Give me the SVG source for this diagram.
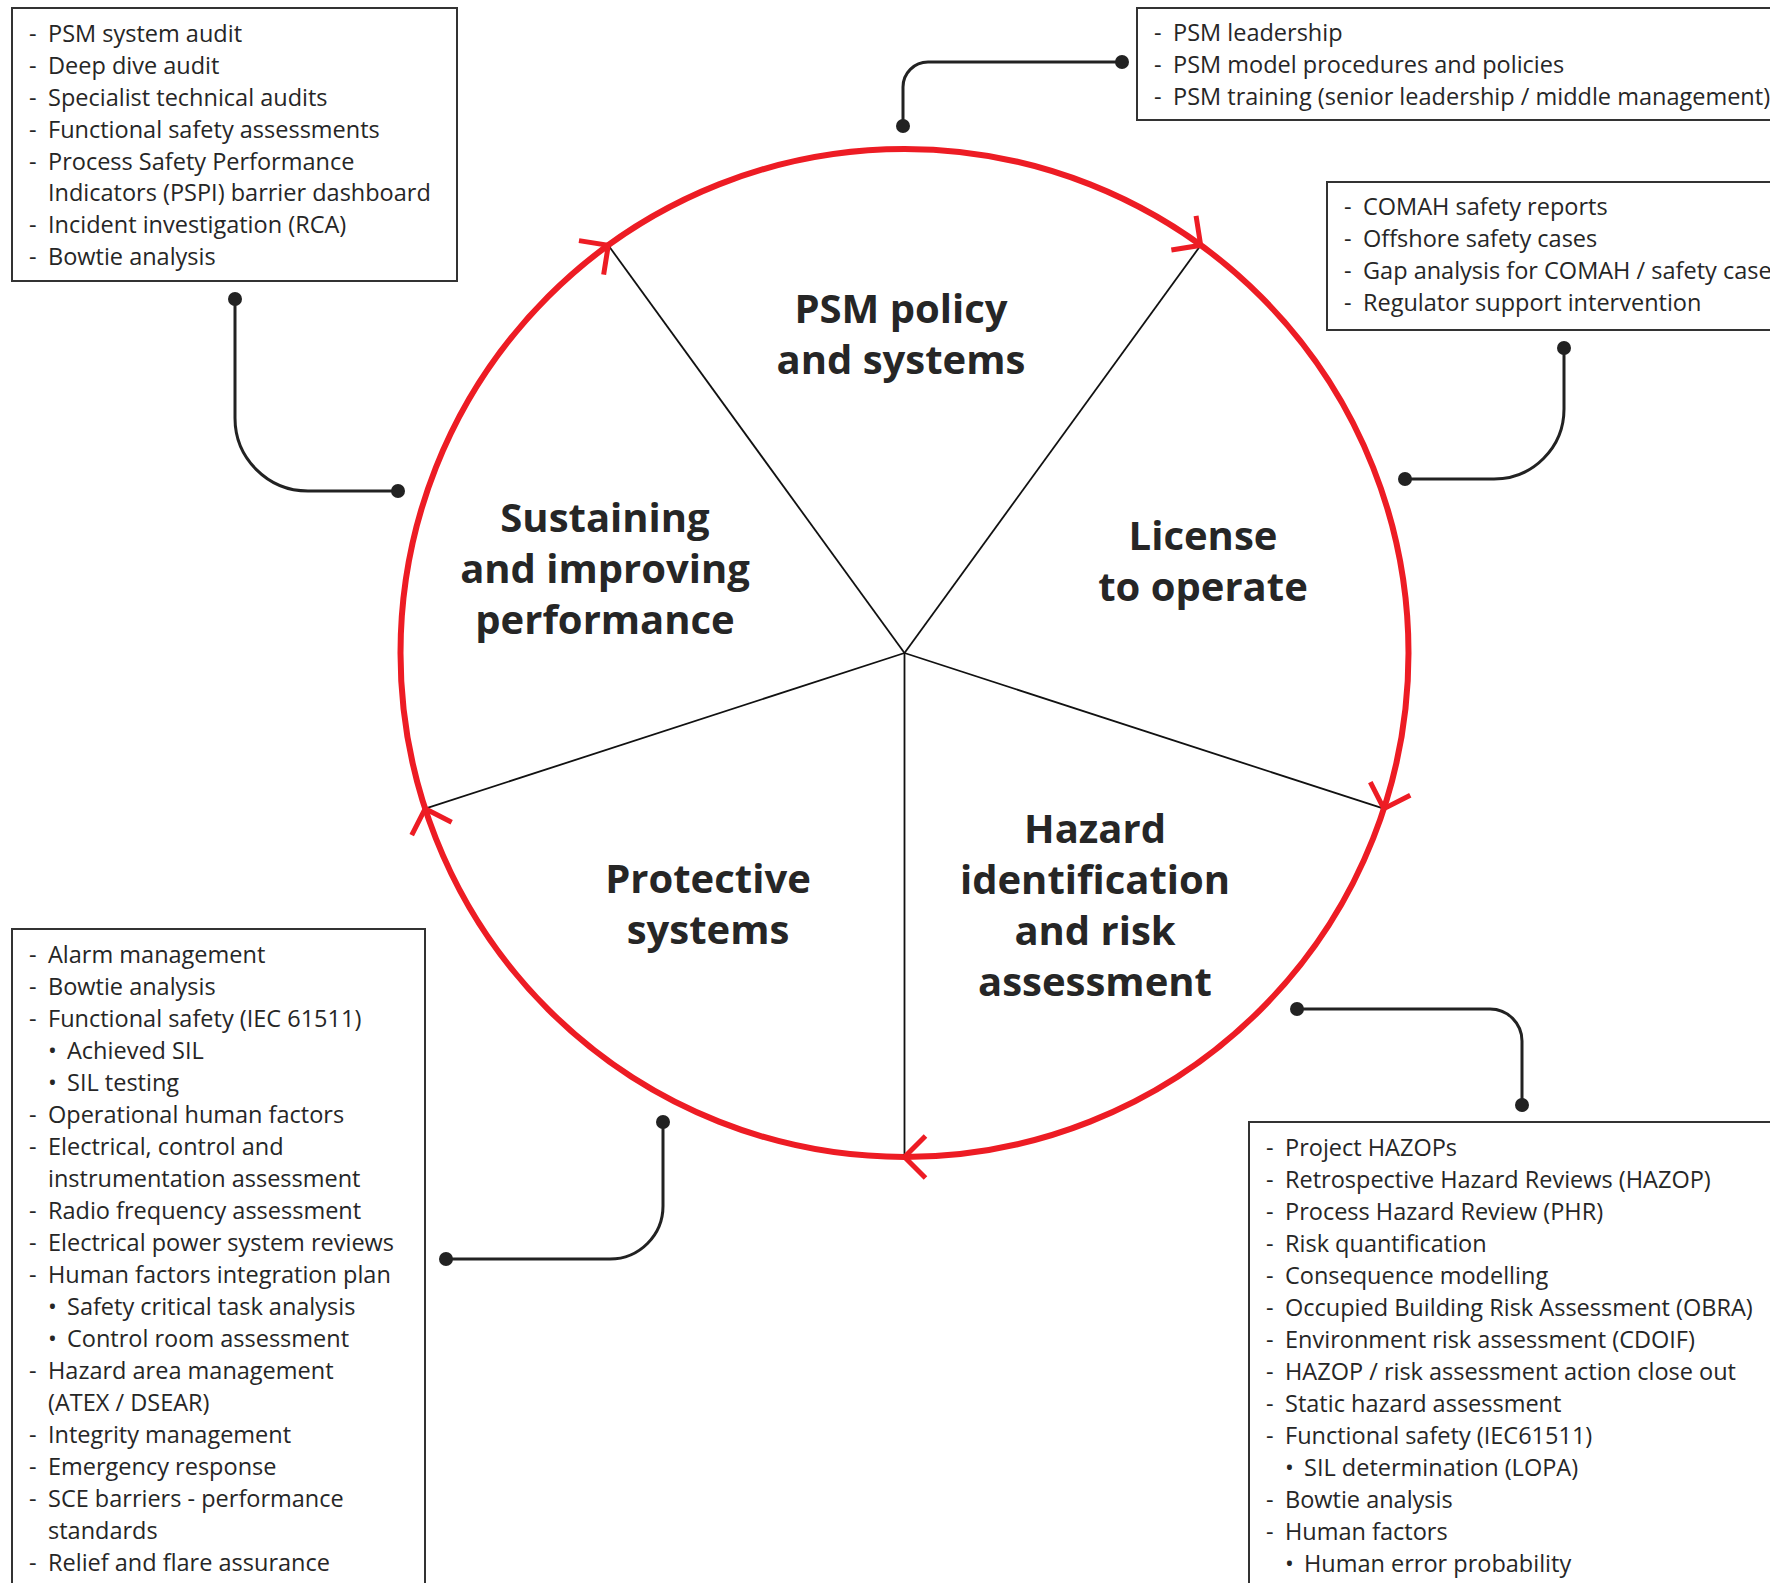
<svg xmlns="http://www.w3.org/2000/svg" xmlns:xlink="http://www.w3.org/1999/xlink" width="1770" height="1583" viewBox="0 0 1770 1583">
<defs>
<style>
.box{fill:#fff;stroke:#333;stroke-width:2}
.t{font-family:"Open Sans","Liberation Sans",sans-serif;font-size:23.5px;fill:#262626}
.lbl{font-family:"Open Sans","Liberation Sans",sans-serif;font-size:40px;font-weight:700;fill:#262626;text-anchor:middle}
.ring{fill:none;stroke:#ED1C24;stroke-width:6}
.spoke{stroke:#111;stroke-width:1.8}
.chev{fill:none;stroke:#ED1C24;stroke-width:5}
.conn{fill:none;stroke:#222;stroke-width:3}
.dot{fill:#222}
</style>
<path id="chev" class="chev" d="M-21,-21 L0,0 L-21,21"/>
</defs>
<rect width="1770" height="1583" fill="#fff"/>

<g id="cycle">
<circle class="ring" cx="904.5" cy="653" r="504"/>
<line class="spoke" x1="904.5" y1="653" x2="608.3" y2="245.3"/>
<line class="spoke" x1="904.5" y1="653" x2="1200.7" y2="245.3"/>
<line class="spoke" x1="904.5" y1="653" x2="1383.8" y2="808.7"/>
<line class="spoke" x1="904.5" y1="653" x2="904.5" y2="1157"/>
<line class="spoke" x1="904.5" y1="653" x2="425.2" y2="808.7"/>
<use xlink:href="#chev" transform="translate(608.3,245.3) rotate(-36)"/>
<use xlink:href="#chev" transform="translate(1200.7,245.3) rotate(36)"/>
<use xlink:href="#chev" transform="translate(1383.8,808.7) rotate(108)"/>
<use xlink:href="#chev" transform="translate(904.5,1157) rotate(180)"/>
<use xlink:href="#chev" transform="translate(425.2,808.7) rotate(252)"/>
</g>

<g id="seg-policy">
<text class="lbl" x="901" y="323">PSM policy</text>
<text class="lbl" x="901" y="374">and systems</text>
</g>
<g id="seg-license">
<text class="lbl" x="1203" y="550">License</text>
<text class="lbl" x="1203" y="601">to operate</text>
</g>
<g id="seg-hazard">
<text class="lbl" x="1095" y="843">Hazard</text>
<text class="lbl" x="1095" y="894">identification</text>
<text class="lbl" x="1095" y="945">and risk</text>
<text class="lbl" x="1095" y="996">assessment</text>
</g>
<g id="seg-protective">
<text class="lbl" x="708" y="893">Protective</text>
<text class="lbl" x="708" y="944">systems</text>
</g>
<g id="seg-sustaining">
<text class="lbl" x="605" y="532">Sustaining</text>
<text class="lbl" x="605" y="583">and improving</text>
<text class="lbl" x="605" y="634">performance</text>
</g>

<g id="box-sustaining">
<rect class="box" x="12" y="8" width="445" height="273"/>
<g class="t">
<text x="29" y="42">-</text><text x="48" y="42">PSM system audit</text>
<text x="29" y="74">-</text><text x="48" y="74">Deep dive audit</text>
<text x="29" y="106">-</text><text x="48" y="106">Specialist technical audits</text>
<text x="29" y="138">-</text><text x="48" y="138">Functional safety assessments</text>
<text x="29" y="170">-</text><text x="48" y="170">Process Safety Performance</text>
<text x="48" y="201">Indicators (PSPI) barrier dashboard</text>
<text x="29" y="233">-</text><text x="48" y="233">Incident investigation (RCA)</text>
<text x="29" y="265">-</text><text x="48" y="265">Bowtie analysis</text>
</g>
</g>

<g id="box-policy">
<rect class="box" x="1137" y="8" width="640" height="112"/>
<g class="t">
<text x="1154" y="41">-</text><text x="1173" y="41">PSM leadership</text>
<text x="1154" y="73">-</text><text x="1173" y="73">PSM model procedures and policies</text>
<text x="1154" y="105">-</text><text x="1173" y="105">PSM training (senior leadership / middle management)</text>
</g>
</g>

<g id="box-license">
<rect class="box" x="1327" y="182" width="450" height="148"/>
<g class="t">
<text x="1344" y="215">-</text><text x="1363" y="215">COMAH safety reports</text>
<text x="1344" y="247">-</text><text x="1363" y="247">Offshore safety cases</text>
<text x="1344" y="279">-</text><text x="1363" y="279">Gap analysis for COMAH / safety cases</text>
<text x="1344" y="311">-</text><text x="1363" y="311">Regulator support intervention</text>
</g>
</g>

<g id="box-protective">
<rect class="box" x="12" y="929" width="413" height="670"/>
<g class="t">
<text x="29" y="963">-</text><text x="48" y="963">Alarm management</text>
<text x="29" y="995">-</text><text x="48" y="995">Bowtie analysis</text>
<text x="29" y="1027">-</text><text x="48" y="1027">Functional safety (IEC 61511)</text>
<text x="48" y="1059">•</text><text x="67" y="1059">Achieved SIL</text>
<text x="48" y="1091">•</text><text x="67" y="1091">SIL testing</text>
<text x="29" y="1123">-</text><text x="48" y="1123">Operational human factors</text>
<text x="29" y="1155">-</text><text x="48" y="1155">Electrical, control and</text>
<text x="48" y="1187">instrumentation assessment</text>
<text x="29" y="1219">-</text><text x="48" y="1219">Radio frequency assessment</text>
<text x="29" y="1251">-</text><text x="48" y="1251">Electrical power system reviews</text>
<text x="29" y="1283">-</text><text x="48" y="1283">Human factors integration plan</text>
<text x="48" y="1315">•</text><text x="67" y="1315">Safety critical task analysis</text>
<text x="48" y="1347">•</text><text x="67" y="1347">Control room assessment</text>
<text x="29" y="1379">-</text><text x="48" y="1379">Hazard area management</text>
<text x="48" y="1411">(ATEX / DSEAR)</text>
<text x="29" y="1443">-</text><text x="48" y="1443">Integrity management</text>
<text x="29" y="1475">-</text><text x="48" y="1475">Emergency response</text>
<text x="29" y="1507">-</text><text x="48" y="1507">SCE barriers - performance</text>
<text x="48" y="1539">standards</text>
<text x="29" y="1571">-</text><text x="48" y="1571">Relief and flare assurance</text>
</g>
</g>

<g id="box-hazard">
<rect class="box" x="1249" y="1122" width="530" height="480"/>
<g class="t">
<text x="1266" y="1156">-</text><text x="1285" y="1156">Project HAZOPs</text>
<text x="1266" y="1188">-</text><text x="1285" y="1188">Retrospective Hazard Reviews (HAZOP)</text>
<text x="1266" y="1220">-</text><text x="1285" y="1220">Process Hazard Review (PHR)</text>
<text x="1266" y="1252">-</text><text x="1285" y="1252">Risk quantification</text>
<text x="1266" y="1284">-</text><text x="1285" y="1284">Consequence modelling</text>
<text x="1266" y="1316">-</text><text x="1285" y="1316">Occupied Building Risk Assessment (OBRA)</text>
<text x="1266" y="1348">-</text><text x="1285" y="1348">Environment risk assessment (CDOIF)</text>
<text x="1266" y="1380">-</text><text x="1285" y="1380">HAZOP / risk assessment action close out</text>
<text x="1266" y="1412">-</text><text x="1285" y="1412">Static hazard assessment</text>
<text x="1266" y="1444">-</text><text x="1285" y="1444">Functional safety (IEC61511)</text>
<text x="1285" y="1476">•</text><text x="1304" y="1476">SIL determination (LOPA)</text>
<text x="1266" y="1508">-</text><text x="1285" y="1508">Bowtie analysis</text>
<text x="1266" y="1540">-</text><text x="1285" y="1540">Human factors</text>
<text x="1285" y="1572">•</text><text x="1304" y="1572">Human error probability</text>
</g>
</g>

<g id="connectors">
<path class="conn" d="M1122,62 H928 A25,25 0 0 0 903,87 V126"/>
<circle class="dot" cx="1122" cy="62" r="7"/><circle class="dot" cx="903" cy="126" r="7"/>
<path class="conn" d="M235,299 V418 A73,73 0 0 0 308,491 H398"/>
<circle class="dot" cx="235" cy="299" r="7"/><circle class="dot" cx="398" cy="491" r="7"/>
<path class="conn" d="M1564,348 V409 A70,70 0 0 1 1494,479 H1405"/>
<circle class="dot" cx="1564" cy="348" r="7"/><circle class="dot" cx="1405" cy="479" r="7"/>
<path class="conn" d="M1297,1009 H1490 A32,32 0 0 1 1522,1041 V1105"/>
<circle class="dot" cx="1297" cy="1009" r="7"/><circle class="dot" cx="1522" cy="1105" r="7"/>
<path class="conn" d="M663,1122 V1206 A53,53 0 0 1 610,1259 H446"/>
<circle class="dot" cx="663" cy="1122" r="7"/><circle class="dot" cx="446" cy="1259" r="7"/>
</g>
</svg>
